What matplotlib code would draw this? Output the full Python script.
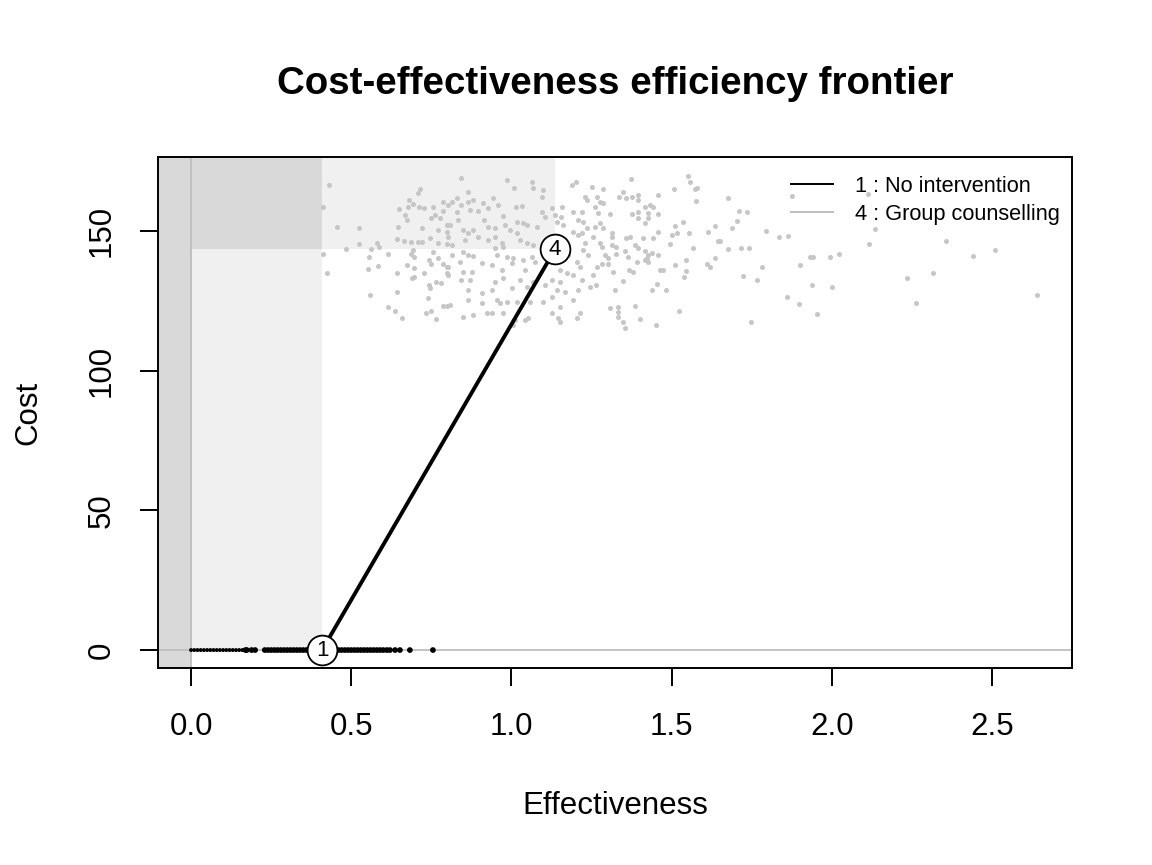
import numpy as np
import matplotlib
matplotlib.use("Agg")
import matplotlib.pyplot as plt
from matplotlib.lines import Line2D

plt.rcParams["font.family"] = ["Liberation Sans", "DejaVu Sans"]

# strategies on the frontier (mean effectiveness, mean cost)
strategy_ids = ["1", "4"]
strategy_names = ["No intervention", "Group counselling"]
frontier_eff = [0.409, 1.136]
frontier_cost = [0.0, 143.4]

# PSA samples, no intervention (cost always 0)
eff_none = [0.00, 0.01, 0.02, 0.03, 0.04, 0.05, 0.06, 0.07, 0.08, 0.09, 0.10, 0.11,
            0.12, 0.13, 0.14, 0.15, 0.16, 0.17, 0.174, 0.189, 0.20, 0.23, 0.24, 0.25,
            0.26, 0.27, 0.28, 0.29, 0.30, 0.31, 0.32, 0.33, 0.34, 0.35, 0.36, 0.37,
            0.38, 0.39, 0.40, 0.42, 0.43, 0.44, 0.45, 0.46, 0.47, 0.48, 0.49, 0.50,
            0.51, 0.52, 0.53, 0.54, 0.55, 0.56, 0.57, 0.58, 0.59, 0.60, 0.611, 0.621,
            0.637, 0.652, 0.683, 0.755]
cost_none = [0.0] * len(eff_none)

# PSA samples, group counselling
eff_group = [
    0.432, 0.413, 0.457, 0.525, 0.523, 0.484, 0.411, 0.424, 0.561, 0.580, 0.588, 0.555,
    0.552, 0.583, 0.616, 0.559, 0.616, 0.637, 0.658, 0.642, 0.642, 0.644, 0.647, 0.650,
    0.668, 0.673, 0.681, 0.676, 0.709, 0.715, 0.694, 0.712, 0.727, 0.754, 0.720, 0.666,
    0.686, 0.709, 0.720, 0.746, 0.770, 0.772, 0.748, 0.762, 0.777, 0.787, 0.787, 0.798,
    0.800, 0.798, 0.692, 0.687, 0.696, 0.756, 0.772, 0.744, 0.748, 0.673, 0.696, 0.689,
    0.697, 0.727, 0.787, 0.798, 0.798, 0.744, 0.746, 0.764, 0.779, 0.739, 0.787, 0.800,
    0.733, 0.748, 0.765,
    0.843, 0.865, 0.985, 1.009, 1.063, 1.068, 1.100, 1.095, 1.188, 1.202, 0.814, 0.829,
    0.843, 0.864, 0.881, 0.912, 0.943, 0.957, 0.926, 0.871, 0.829, 0.803, 0.897, 0.975,
    1.013, 1.034, 1.095, 1.128, 1.157, 1.155, 1.193, 1.209, 0.808, 0.834, 0.850, 0.864,
    0.881, 0.915, 0.926, 0.949, 0.980, 0.996, 1.017, 1.037, 1.048, 1.079, 1.105, 1.136,
    1.141, 1.162, 1.193, 1.209, 0.803, 0.814, 0.855, 0.897, 0.928, 0.949, 0.970, 1.017,
    1.027, 1.048, 1.068, 0.949, 0.975, 0.814, 0.850, 0.865, 0.881, 0.954, 0.985, 1.006,
    1.037, 1.063, 1.074, 1.141, 1.178, 1.204, 0.840, 0.803, 0.850, 0.876, 0.907, 0.938,
    0.970, 1.001, 1.042, 1.152, 1.173, 1.193, 0.803, 0.843, 0.871, 0.949, 0.975, 1.027,
    1.001, 1.048, 1.068, 0.865, 0.907, 0.938, 1.105, 1.126, 1.152, 1.141, 1.167, 1.209,
    0.808, 0.865, 0.907, 0.954, 0.964, 0.985, 1.017, 1.058, 1.100, 1.126, 1.152, 1.193,
    0.850, 0.881, 0.923, 0.938, 0.975, 1.011, 1.042, 1.053, 1.006, 1.126, 1.146, 1.152,
    1.204,
    1.373, 1.251, 1.287, 1.230, 1.235, 1.266, 1.277, 1.287, 1.261, 1.337, 1.349, 1.358,
    1.375, 1.396, 1.396, 1.458, 1.507, 1.550, 1.557, 1.573, 1.580, 1.576, 1.219, 1.271,
    1.308, 1.375, 1.396, 1.417, 1.433, 1.443, 1.427, 1.458, 1.396, 1.427, 1.417, 1.224,
    1.235, 1.261, 1.277, 1.287, 1.219, 1.256, 1.313, 1.313, 1.358, 1.370, 1.412, 1.441,
    1.457, 1.511, 1.537, 1.500, 1.516, 1.495, 1.554, 1.613, 1.635, 1.568, 1.646, 1.230,
    1.224, 1.240, 1.277, 1.282, 1.313, 1.326, 1.355, 1.386, 1.396, 1.292, 1.302, 1.326,
    1.365, 1.417, 1.427, 1.438, 1.457, 1.391, 1.417, 1.427, 1.422, 1.214, 1.266, 1.282,
    1.302, 1.318, 1.368, 1.380, 1.464, 1.474, 1.511, 1.544, 1.545, 1.539, 1.610, 1.620,
    1.635, 1.219, 1.256, 1.264, 1.245, 1.349, 1.323, 1.438, 1.455, 1.482, 1.214, 1.308,
    1.334, 1.332, 1.334, 1.347, 1.355, 1.386, 1.401, 1.451, 1.524,
    1.675, 1.710, 1.734, 1.703, 1.688, 1.794, 1.835, 1.864, 1.677, 1.717, 1.743, 1.651,
    1.783, 1.724, 1.767, 1.859, 1.899, 1.748, 1.901,
    1.877, 2.114, 2.135, 2.117, 1.932, 1.942, 1.994, 2.023, 1.939, 2.002, 1.953, 2.236,
    2.317, 2.262, 2.356, 2.440, 2.510, 2.641,
]
cost_group = [
    166.5, 158.7, 151.6, 151.0, 145.3, 143.5, 141.7, 134.9, 143.5, 145.8, 144.4, 140.6,
    136.4, 137.5, 141.8, 127.1, 122.8, 121.4, 119.0, 128.1, 135.1, 147.2, 151.3, 157.9,
    155.7, 154.0, 161.1, 158.5, 163.5, 165.1, 159.6, 158.5, 158.4, 158.7, 151.0, 146.4,
    146.2, 146.2, 146.0, 147.4, 145.8, 150.3, 154.8, 155.7, 154.8, 157.2, 160.3, 152.2,
    149.8, 145.3, 143.2, 141.7, 140.8, 142.4, 140.5, 139.6, 138.2, 137.8, 136.7, 133.3,
    133.7, 135.1, 138.2, 137.2, 134.9, 130.7, 129.7, 131.6, 131.3, 125.9, 123.3, 123.3,
    120.8, 121.4, 118.5,
    168.9, 164.1, 168.3, 165.3, 167.7, 165.5, 164.7, 162.1, 166.5, 167.7, 160.5, 161.7,
    159.3, 160.5, 161.1, 159.9, 161.7, 159.3, 158.1, 157.5, 156.9, 159.3, 157.2, 155.5,
    158.7, 159.1, 156.9, 158.1, 158.7, 155.1, 156.9, 154.0, 152.2, 154.0, 150.4, 149.2,
    150.4, 154.0, 151.6, 151.0, 152.2, 150.4, 153.3, 152.8, 152.2, 151.6, 155.1, 155.7,
    153.3, 152.2, 149.8, 148.6, 148.0, 145.0, 146.8, 148.0, 146.8, 148.0, 145.6, 149.2,
    146.8, 145.6, 145.0, 143.8, 144.4, 141.4, 142.6, 141.4, 141.2, 141.4, 140.8, 140.2,
    139.6, 140.8, 139.0, 140.8, 141.4, 139.0, 139.0, 137.2, 135.4, 135.4, 138.5, 137.8,
    136.1, 138.5, 136.1, 136.1, 134.9, 134.3, 134.3, 132.5, 132.5, 131.9, 133.1, 132.5,
    129.5, 130.1, 131.6, 128.9, 127.7, 128.9, 130.7, 132.5, 131.9, 128.9, 128.3, 128.9,
    123.5, 125.3, 124.1, 125.3, 124.1, 124.7, 124.7, 124.7, 124.7, 126.5, 122.9, 125.3,
    119.3, 119.9, 120.6, 120.6, 120.6, 118.1, 118.1, 118.8, 116.4, 120.6, 118.8, 117.5,
    118.8,
    168.5, 165.9, 164.9, 162.3, 161.1, 162.3, 160.5, 159.9, 158.7, 162.3, 164.1, 161.7,
    162.3, 162.9, 161.1, 162.9, 164.9, 169.7, 167.7, 165.1, 165.5, 160.8, 156.9, 156.4,
    156.0, 156.0, 156.9, 158.7, 159.3, 158.7, 156.4, 156.0, 154.6, 154.6, 152.8, 153.3,
    151.0, 151.6, 152.8, 151.0, 149.2, 148.0, 149.2, 148.0, 147.4, 148.0, 147.6, 147.6,
    149.8, 151.8, 153.1, 148.6, 149.2, 145.3, 149.2, 149.8, 151.8, 144.0, 146.4, 145.6,
    143.2, 141.4, 145.6, 144.4, 145.0, 144.4, 142.9, 145.0, 144.0, 141.4, 140.5, 141.7,
    140.8, 142.9, 141.4, 142.0, 141.4, 139.0, 139.6, 139.0, 140.2, 137.2, 137.2, 138.1,
    138.1, 135.4, 136.1, 135.2, 136.1, 136.1, 137.8, 139.6, 135.7, 133.7, 138.1, 137.2,
    140.2, 132.5, 134.3, 130.7, 130.1, 132.1, 128.9, 128.9, 131.0, 128.9, 120.6, 122.6,
    122.9, 121.1, 119.3, 117.5, 115.2, 123.3, 118.4, 116.4, 121.5,
    161.7, 157.2, 156.7, 153.6, 151.2, 150.1, 147.8, 148.2, 143.7, 143.8, 144.0, 146.6,
    137.2, 133.9, 132.5, 126.5, 123.9, 117.3, 137.8,
    162.5, 163.2, 150.6, 145.4, 140.8, 140.8, 140.8, 141.7, 130.7, 130.0, 120.2, 133.3,
    134.9, 124.1, 146.3, 141.0, 143.1, 127.1,
]

x_ticks = [0.0, 0.5, 1.0, 1.5, 2.0, 2.5]
y_ticks = [0, 50, 100, 150]

dark = "#D9D9D9"
light = "#F0F0F0"
cloud_grey = "#C6C6C6"
line_grey = "#BEBEBE"
fs = 22.5

fig = plt.figure(figsize=(11.52, 8.65), dpi=100)
ax = fig.add_axes([0.1372, 0.2277, 0.7934, 0.5908])
xlo, xhi = -0.103, 2.750
ylo, yhi = -6.44, 176.5
ax.set_xlim(xlo, xhi)
ax.set_ylim(ylo, yhi)

# dominated regions
e1, e4 = frontier_eff
c1, c4 = frontier_cost
ax.axvspan(xlo, 0, color=dark, lw=0, zorder=0)
ax.fill_between([0, e1], c1, yhi, color=light, lw=0, zorder=0)
ax.fill_between([0, e1], c4, yhi, color=dark, lw=0, zorder=0)
ax.fill_between([e1, e4], c4, yhi, color=light, lw=0, zorder=0)

ax.axhline(0, color=line_grey, lw=1.3, zorder=1)
ax.axvline(0, color=line_grey, lw=1.3, zorder=1)

ax.scatter(eff_group, cost_group, s=13, color=cloud_grey, lw=0, zorder=2)
# the run of samples near zero reads as a thin line, the rest as a thick band
sizes_none = [8 if e < 0.17 else 17 for e in eff_none]
ax.scatter(eff_none, cost_none, s=sizes_none, color="black", lw=0, zorder=2)

# frontier
ax.plot(frontier_eff, frontier_cost, color="black", lw=2.8, zorder=3)
ax.scatter(frontier_eff, frontier_cost, s=460, facecolor="white", edgecolor="black",
           lw=1.3, zorder=4)
for sid, ex, cy in zip(strategy_ids, frontier_eff, frontier_cost):
    ax.text(ex, cy, sid, ha="center", va="center", fontsize=16, zorder=5)

ax.set_xticks(x_ticks)
ax.set_xticklabels([f"{v:.1f}" for v in x_ticks])
ax.set_yticks(y_ticks)
ax.set_yticklabels([str(v) for v in y_ticks], rotation=90, va="center")
ax.tick_params(axis="both", length=13, width=1.4, labelsize=fs, direction="out", pad=19)
ax.tick_params(axis="y", pad=17)
for sp in ax.spines.values():
    sp.set_linewidth(1.4)

ax.set_xlabel("Effectiveness", fontsize=fs, labelpad=35)
ax.set_ylabel("Cost", fontsize=fs, labelpad=31)
fig.text(0.5339, 1 - 94 / 865, "Cost-effectiveness efficiency frontier", ha="center",
         va="baseline", fontsize=27.7, fontweight="bold")

handles = [Line2D([], [], color="black", lw=1.4),
           Line2D([], [], color=line_grey, lw=1.4)]
labels = [f"{i} : {n}" for i, n in zip(strategy_ids, strategy_names)]
ax.legend(handles, labels, loc="upper right", frameon=False, fontsize=15.7,
          handlelength=1.93, handletextpad=1.0, labelspacing=0.33,
          bbox_to_anchor=(0.9869, 0.963), borderaxespad=0, borderpad=0)

fig.savefig("out.png", dpi=100)
